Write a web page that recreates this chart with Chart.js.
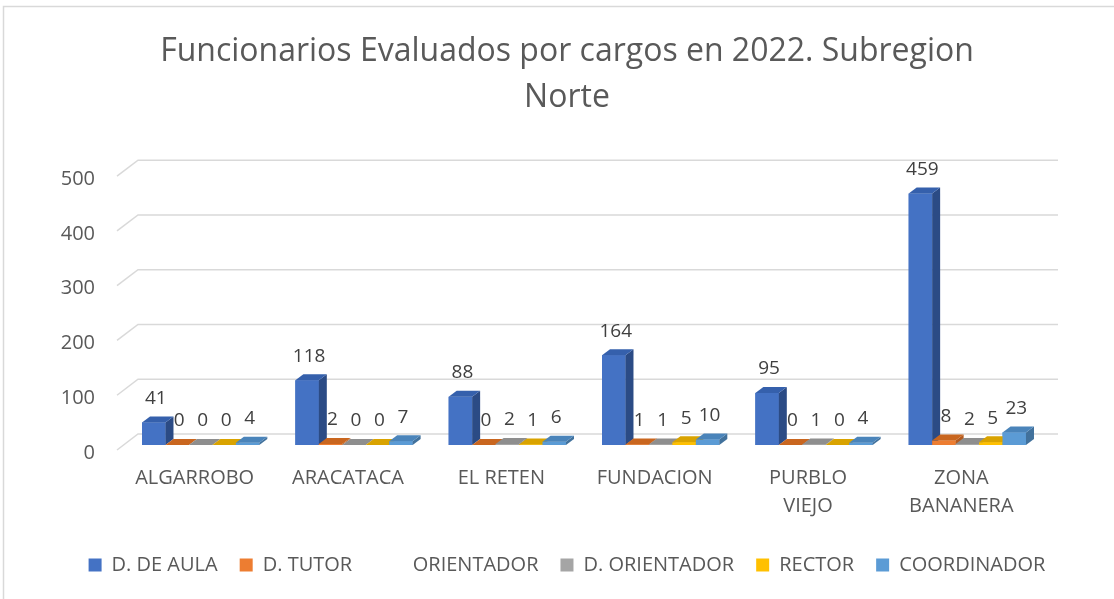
<!DOCTYPE html>
<html>
<head>
<meta charset="utf-8">
<script src="https://cdn.jsdelivr.net/npm/chart.js@4.4.1/dist/chart.umd.min.js"></script>
<style>
  html, body { margin: 0; padding: 0; background: #fff; }
</style>
</head>
<body>
<canvas id="chart" width="1114" height="599"></canvas>
<script>
// datos
const categories = ['ALGARROBO', 'ARACATACA', 'EL RETEN', 'FUNDACION', ['PURBLO', 'VIEJO'], ['ZONA', 'BANANERA']];
const seriesNames = ['D. DE AULA', 'D. TUTOR', 'D. ORIENTADOR', 'RECTOR', 'COORDINADOR'];
const emptySeriesName = 'ORIENTADOR'; // serie sin datos, solo en la leyenda
const dAula = [41, 118, 88, 164, 95, 459];
const dTutor = [0, 2, 0, 1, 0, 8];
const dOrientador = [0, 0, 2, 1, 1, 2];
const rector = [0, 0, 1, 5, 0, 5];
const coordinador = [4, 7, 6, 10, 4, 23];
const yTicks = [0, 100, 200, 300, 400, 500];

const frontColors = ['#4472C4', '#ED7D31', '#A5A5A5', '#FFC000', '#5B9BD5'];
const sideColors = ['#2B4B85', '#B35A1E', '#7C7C7C', '#BF9000', '#41719C'];
const topColors = ['#3560AC', '#C9661F', '#8E8E8E', '#D9A300', '#4A84BA'];
const FONT = "'Open Sans', sans-serif";
const DX = 8, DY = -6;

// marco gris del grafico
const frame = {
    id: 'frame',
    beforeDraw(chart) {
        const ctx = chart.ctx;
        ctx.save();
        ctx.fillStyle = '#fff';
        ctx.fillRect(0, 0, chart.width, chart.height);
        ctx.strokeStyle = '#d9d9d9';
        ctx.lineWidth = 1.5;
        ctx.strokeRect(3.5, 6.5, 1200, 700);
        ctx.restore();
    }
};

// lineas de cuadricula con pared lateral en "3D"
const grid3d = {
    id: 'grid3d',
    beforeDatasetsDraw(chart) {
        const ctx = chart.ctx, area = chart.chartArea, y = chart.scales.y;
        ctx.save();
        ctx.strokeStyle = '#d9d9d9';
        ctx.lineWidth = 1.5;
        yTicks.forEach(v => {
            const py = y.getPixelForValue(v);
            ctx.beginPath();
            ctx.moveTo(area.left - 7, py + 5);
            ctx.lineTo(area.left + 14, py - 11);
            ctx.lineTo(area.right + 14, py - 11);
            ctx.stroke();
        });
        ctx.restore();
    }
};

// caras superiores/laterales de las barras y etiquetas de datos
const bars3d = {
    id: 'bars3d',
    afterDatasetsDraw(chart) {
        const ctx = chart.ctx;
        ctx.save();
        chart.data.datasets.forEach((ds, i) => {
            chart.getDatasetMeta(i).data.forEach(bar => {
                const p = bar.getProps(['x', 'y', 'base', 'width'], true);
                const l = p.x - p.width / 2, r = p.x + p.width / 2;
                const t = Math.min(p.y, p.base), b = p.base;
                ctx.fillStyle = frontColors[i];
                ctx.fillRect(l, t, r - l, b - t);
                ctx.fillStyle = sideColors[i];
                ctx.beginPath();
                ctx.moveTo(r, t); ctx.lineTo(r + DX, t + DY); ctx.lineTo(r + DX, b + DY); ctx.lineTo(r, b);
                ctx.closePath(); ctx.fill();
                ctx.fillStyle = topColors[i];
                ctx.beginPath();
                ctx.moveTo(l, t); ctx.lineTo(l + DX, t + DY); ctx.lineTo(r + DX, t + DY); ctx.lineTo(r, t);
                ctx.closePath(); ctx.fill();
            });
        });
        ctx.fillStyle = '#404040';
        ctx.font = '19px ' + FONT;
        ctx.textAlign = 'center';
        ctx.textBaseline = 'middle';
        chart.data.datasets.forEach((ds, i) => {
            chart.getDatasetMeta(i).data.forEach((bar, j) => {
                const p = bar.getProps(['x', 'y'], true);
                ctx.fillText(String(ds.data[j]), p.x + 2, p.y - 24);
            });
        });
        ctx.restore();
    }
};

const seriesData = [dAula, dTutor, dOrientador, rector, coordinador];

new Chart(document.getElementById('chart'), {
    type: 'bar',
    data: {
        labels: categories,
        datasets: seriesNames.map((name, i) => ({
            label: name,
            data: seriesData[i],
            backgroundColor: frontColors[i],
            borderWidth: 0,
            categoryPercentage: 0.765,
            barPercentage: 1
        }))
    },
    options: {
        responsive: false,
        animation: false,
        layout: { padding: { left: 30, right: 10, top: 0, bottom: 14 } },
        plugins: {
            tooltip: { enabled: false },
            title: {
                display: true,
                text: ['Funcionarios Evaluados por cargos en 2022. Subregion', 'Norte'],
                color: '#595959',
                font: { family: FONT, size: 32, weight: 'normal', lineHeight: 1.44 },
                padding: { top: 29, bottom: 50 }
            },
            legend: {
                position: 'bottom',
                onClick: null,
                labels: {
                    boxWidth: 13,
                    boxHeight: 13,
                    padding: 22,
                    color: '#595959',
                    font: { family: FONT, size: 20 },
                    generateLabels(chart) {
                        const items = Chart.defaults.plugins.legend.labels.generateLabels(chart);
                        items.splice(2, 0, {
                            text: '   ' + emptySeriesName,
                            fillStyle: 'rgba(0,0,0,0)',
                            strokeStyle: 'rgba(0,0,0,0)',
                            lineWidth: 0,
                            hidden: false,
                            fontColor: '#595959',
                            datasetIndex: -1
                        });
                        return items;
                    }
                }
            }
        },
        scales: {
            x: {
                grid: { display: false, drawTicks: false },
                border: { display: false },
                ticks: {
                    color: '#595959',
                    font: { family: FONT, size: 20, lineHeight: 1.4 },
                    padding: 19,
                    labelOffset: -6,
                    maxRotation: 0,
                    autoSkip: false
                },
                afterFit(scale) { scale.height = 88; }
            },
            y: {
                min: 0,
                max: 500,
                grid: { display: false, drawTicks: false },
                border: { display: false },
                ticks: {
                    stepSize: 100,
                    color: '#595959',
                    font: { family: FONT, size: 20 },
                    padding: 29,
                    labelOffset: 8
                },
                afterFit(scale) { scale.width = 94; }
            },
            // eje vacio a la derecha, solo reserva el espacio de la pared 3D
            yRight: {
                position: 'right',
                grid: { display: false, drawTicks: false },
                border: { display: false },
                ticks: { display: false },
                afterFit(scale) { scale.width = 60; }
            }
        }
    },
    plugins: [frame, grid3d, bars3d]
});
</script>
</body>
</html>
